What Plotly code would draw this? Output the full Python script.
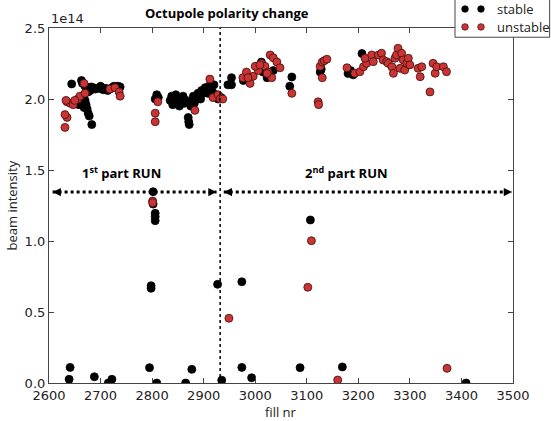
import plotly.graph_objects as go

# ---------------- data (intensity in units of 1e14) ----------------
stable_fill = [
    # 1st part, top cluster
    2644, 2663, 2665, 2670, 2674, 2678, 2682, 2686, 2690, 2694, 2698, 2702, 2706, 2710,
    2714, 2718, 2722, 2726, 2730, 2734, 2738, 2676, 2668, 2670, 2672, 2674, 2676, 2678,
    2668, 2683, 2658, 2662, 2680, 2700,
    2809, 2806, 2812, 2835, 2838, 2840, 2843, 2846, 2850, 2853, 2856, 2860, 2863, 2866,
    2870, 2871, 2872, 2875, 2878, 2882, 2886, 2889, 2892, 2896, 2899, 2903, 2906, 2910,
    2914, 2917, 2920, 2924, 2928, 2934, 2848, 2858, 2880, 2894, 2908,
    # 2nd part, top cluster
    2947, 2954, 2954, 2977, 3003, 3012, 3015, 3023, 3035, 3071, 3067, 3126, 3128,
    3180, 3190, 3207, 3185,
    # low / intermediate
    2641, 2639, 2688, 2715, 2722, 2795, 2809, 2865, 2877, 2935, 2974, 2993,
    2798, 2798, 2927, 2974, 2802, 2802, 2806, 2806, 2806,
    3087, 3107, 3169, 3409,
]
stable_int = [
    2.106, 2.13, 2.11, 2.09, 2.08, 2.07, 2.085, 2.08, 2.07, 2.075, 2.08, 2.07, 2.065, 2.075,
    2.06, 2.07, 2.08, 2.09, 2.085, 2.09, 2.085, 2.05, 2.03, 1.99, 1.96, 1.93, 1.90, 1.88,
    1.94, 1.82, 1.96, 2.00, 2.06, 2.09,
    2.03, 2.00, 2.01, 1.99, 2.02, 1.96, 2.00, 2.03, 1.98, 1.95, 2.00, 2.02, 1.97, 1.99,
    1.87, 1.84, 1.82, 1.95, 1.99, 1.97, 2.00, 2.04, 2.02, 2.06, 2.04, 2.08, 2.06, 2.09,
    2.07, 2.05, 2.10, 2.03, 2.00, 2.01, 1.97, 2.01, 2.02, 2.00, 2.04,
    2.10, 2.15, 2.10, 2.13, 2.23, 2.26, 2.19, 2.15, 2.20, 2.155, 2.09, 2.19, 2.21,
    2.18, 2.17, 2.32, 2.20,
    0.11, 0.026, 0.044, 0.0, 0.026, 0.108, 0.0, 0.0, 0.096, 0.02, 0.11, 0.037,
    0.685, 0.667, 0.695, 0.713, 1.347, 1.26, 1.195, 1.171, 1.143,
    0.108, 1.148, 0.113, 0.0,
]

unstable_fill = [
    2631, 2635, 2631, 2635, 2641, 2647, 2656, 2660, 2670, 2668, 2718, 2728, 2736, 2738,
    2633, 2650,
    2811, 2806, 2806, 2883, 2912, 2918, 2928, 2932, 2937,
    2976, 2983, 2990, 2996, 3006, 3012, 3019, 3025, 3029, 3035, 3042, 3048, 3032, 2986,
    3000, 3009, 3023, 3071, 3122, 3123, 3126, 3130, 3134, 3139, 3130,
    3178, 3193, 3203, 3210, 3216, 3213, 3226, 3229, 3239, 3245, 3248, 3255, 3258, 3265,
    3268, 3271, 3274, 3277, 3281, 3284, 3287, 3290, 3294, 3297, 3300, 3316, 3320, 3323,
    3345, 3349, 3352, 3365, 3371, 3339,
    2801, 2801, 2949, 3109, 3102, 3160, 3372,
]
unstable_int = [
    1.80, 1.87, 1.89, 1.98, 1.97, 1.96, 2.00, 2.02, 2.04, 2.11, 2.07, 2.08, 2.05, 2.02,
    1.99, 1.99,
    1.98, 1.90, 1.84, 1.92, 2.14, 2.01, 2.03, 2.00, 2.00,
    2.15, 2.19, 2.11, 2.16, 2.20, 2.25, 2.23, 2.19, 2.31, 2.29, 2.26, 2.22, 2.15, 2.15,
    2.23, 2.24, 2.18, 2.04, 1.98, 1.96, 2.23, 2.26, 2.27, 2.28, 2.15,
    2.22, 2.181, 2.192, 2.227, 2.251, 2.287, 2.31, 2.263, 2.31, 2.322, 2.275, 2.263, 2.251, 2.227,
    2.181, 2.287, 2.31, 2.357, 2.216, 2.322, 2.275, 2.204, 2.251, 2.287, 2.24, 2.216, 2.157, 2.227,
    2.251, 2.181, 2.227, 2.227, 2.192, 2.05,
    1.282, 1.27, 0.456, 1.002, 0.674, 0.021, 0.103,
]

x_ticks = [2600, 2700, 2800, 2900, 3000, 3100, 3200, 3300, 3400, 3500]
y_ticks = [0.0, 0.5, 1.0, 1.5, 2.0, 2.5]
y_tick_labels = ["0.0", "0.5", "1.0", "1.5", "2.0", "2.5"]

polarity_change_fill = 2932
run_arrow_level = 1.345
run1_span = [2607, 2925]
run2_span = [2939, 3498]

# ---------------- figure ----------------
RED = "#cc3333"
fig = go.Figure()
fig.add_trace(go.Scatter(
    x=stable_fill, y=stable_int, mode="markers", name="stable",
    marker=dict(color="black", size=8, line=dict(color="black", width=0.8)),
))
fig.add_trace(go.Scatter(
    x=unstable_fill, y=unstable_int, mode="markers", name="unstable",
    marker=dict(color=RED, size=8, line=dict(color="#3a1010", width=0.8)),
))

tickfont = dict(family="DejaVu Sans", size=13, color="#222")
fig.update_xaxes(
    range=[2600, 3500], tickvals=x_ticks, ticks="inside", ticklen=5,
    showline=True, linecolor="#444", linewidth=1.2, mirror="ticks",
    showgrid=False, zeroline=False, tickfont=tickfont,
)
fig.update_yaxes(
    range=[0, 2.5], tickvals=y_ticks, ticktext=y_tick_labels, ticks="inside", ticklen=5,
    showline=True, linecolor="#444", linewidth=1.2, mirror="ticks",
    showgrid=False, zeroline=False, tickfont=tickfont,
)

shapes = []
# polarity change vertical dotted line
shapes.append(dict(type="line", xref="x", yref="paper", x0=polarity_change_fill,
                   x1=polarity_change_fill, y0=0, y1=1,
                   line=dict(color="black", width=1.5, dash="dot")))
# run span dotted lines
for span in (run1_span, run2_span):
    shapes.append(dict(type="line", xref="x", yref="y", x0=span[0], x1=span[1],
                       y0=run_arrow_level, y1=run_arrow_level,
                       line=dict(color="black", width=3, dash="dot")))

# legend box (drawn manually, matplotlib style)
shapes.append(dict(type="rect", xref="paper", yref="paper", x0=0.875, x1=1.079,
                   y0=0.974, y1=1.10, fillcolor="white",
                   line=dict(color="#444", width=1), layer="above"))
for yy, col, edge in ((1.0535, "black", "black"), (1.003, RED, "#3a1010")):
    for xx in (0.8966, 0.931):
        shapes.append(dict(type="circle", xref="paper", yref="paper",
                           xsizemode="pixel", ysizemode="pixel", xanchor=xx, yanchor=yy,
                           x0=-3.3, x1=3.3, y0=-3.3, y1=3.3,
                           fillcolor=col, line=dict(color=edge, width=0.7), layer="above"))

annots = []
# arrow heads
for xh, d in ((run1_span[0], 1), (run1_span[1], -1), (run2_span[0], 1), (run2_span[1], -1)):
    annots.append(dict(x=xh, y=run_arrow_level, xref="x", yref="y", text="",
                       showarrow=True, ax=9 * d, ay=0, arrowhead=2, arrowsize=1.1,
                       arrowwidth=1.5, arrowcolor="black"))

bold = dict(family="Open Sans", size=13, color="black")
annots += [
    dict(x=2945, y=1.0, xref="x", yref="paper", yshift=4, yanchor="bottom",
         text="<b>Octupole polarity change</b>", showarrow=False, font=bold),
    dict(x=2741, y=1.485, xref="x", yref="y", text="<b>1<sup>st</sup> part RUN</b>",
         showarrow=False, font=bold),
    dict(x=3178, y=1.48, xref="x", yref="y", text="<b>2<sup>nd</sup> part RUN</b>",
         showarrow=False, font=bold),
    dict(x=0.0, y=1.0, xref="paper", yref="paper", xanchor="left", yanchor="bottom",
         text="1e14", showarrow=False, font=dict(family="DejaVu Sans", size=13, color="#222")),
    dict(x=0.5, y=0, xref="paper", yref="paper", yshift=-18, yanchor="top",
         text="fill nr", showarrow=False, font=dict(family="Open Sans", size=13, color="#222")),
    dict(x=0, y=0.5, xref="paper", yref="paper", xshift=-27, xanchor="right",
         text="beam intensity", textangle=-90, showarrow=False,
         font=dict(family="Open Sans", size=13, color="#222")),
    dict(x=0.961, y=1.0535, xref="paper", yref="paper", xanchor="left", yanchor="middle",
         text="stable", showarrow=False, font=dict(family="Open Sans", size=13, color="#222")),
    dict(x=0.961, y=1.003, xref="paper", yref="paper", xanchor="left", yanchor="middle",
         text="unstable", showarrow=False, font=dict(family="Open Sans", size=13, color="#222")),
]

fig.update_layout(
    width=551, height=421,
    margin=dict(l=49, r=38, t=28, b=38),
    paper_bgcolor="white", plot_bgcolor="white",
    showlegend=False, shapes=shapes, annotations=annots,
)
fig.write_html("out.html", config={"displayModeBar": False},
               post_script="document.body.style.margin='0';")
